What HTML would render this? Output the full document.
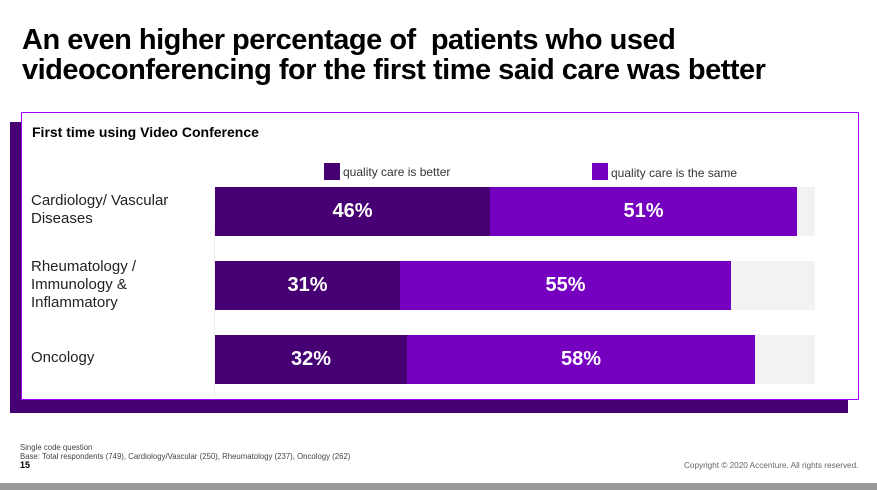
<!DOCTYPE html><html><head><style>
body{margin:0;width:877px;height:490px;position:relative;background:#fff;font-family:"Liberation Sans",sans-serif;overflow:hidden}
div{position:absolute}
.t{left:22px;top:25px;font-size:29px;font-weight:bold;line-height:30px;letter-spacing:-0.5px;color:#000;white-space:nowrap}
.bar{height:49px}
.d{background:#460073}.l{background:#7500c0}.g{background:#f2f2f2}
.v{color:#fff;font-weight:bold;font-size:20px;line-height:49px;text-align:center}
.lab{left:31px;font-size:15px;color:#222;line-height:18px}
</style></head><body>
<div class="t">An even higher percentage of&nbsp; patients who used<br>videoconferencing for the first time said care was better</div>
<div style="left:10px;top:122px;width:838px;height:291px;background:#460073"></div>
<div style="left:21px;top:112px;width:836px;height:286px;background:#fff;border:1px solid #a100ff"></div>
<div style="left:32px;top:124px;font-size:14px;font-weight:bold">First time using Video Conference</div>
<div style="left:214px;top:225px;width:1px;height:172px;background:#eee"></div>
<div style="left:324px;top:163px;width:16px;height:17px" class="d"></div>
<div style="left:343px;top:165px;font-size:12px;color:#333">quality care is better</div>
<div style="left:592px;top:163px;width:16px;height:17px" class="l"></div>
<div style="left:611px;top:166px;font-size:12px;color:#333">quality care is the same</div>
<div class="lab" style="top:192px">Cardiology/ Vascular<br>Diseases</div>
<div class="lab" style="top:258px">Rheumatology /<br>Immunology &amp;<br>Inflammatory</div>
<div class="lab" style="top:349px">Oncology</div>
<div class="bar g" style="left:215px;top:187px;width:600px"></div>
<div class="bar d v" style="left:215px;top:187px;width:275px">46%</div>
<div class="bar l v" style="left:490px;top:187px;width:307px">51%</div>
<div class="bar g" style="left:215px;top:261px;width:600px"></div>
<div class="bar d v" style="left:215px;top:261px;width:185px">31%</div>
<div class="bar l v" style="left:400px;top:261px;width:331px">55%</div>
<div class="bar g" style="left:215px;top:335px;width:600px"></div>
<div class="bar d v" style="left:215px;top:335px;width:192px">32%</div>
<div class="bar l v" style="left:407px;top:335px;width:348px">58%</div>
<div style="left:20px;top:443px;font-size:7.8px;color:#444;line-height:9px;white-space:nowrap">Single code question<br>Base: Total respondents (749), Cardiology/Vascular (250), Rheumatology (237), Oncology (262)</div>
<div style="left:20px;top:460px;font-size:9px;font-weight:bold">15</div>
<div style="left:684px;top:461px;font-size:8.2px;color:#666;white-space:nowrap">Copyright © 2020 Accenture. All rights reserved.</div>
<div style="left:0;top:483px;width:877px;height:7px;background:#999"></div>
</body></html>
